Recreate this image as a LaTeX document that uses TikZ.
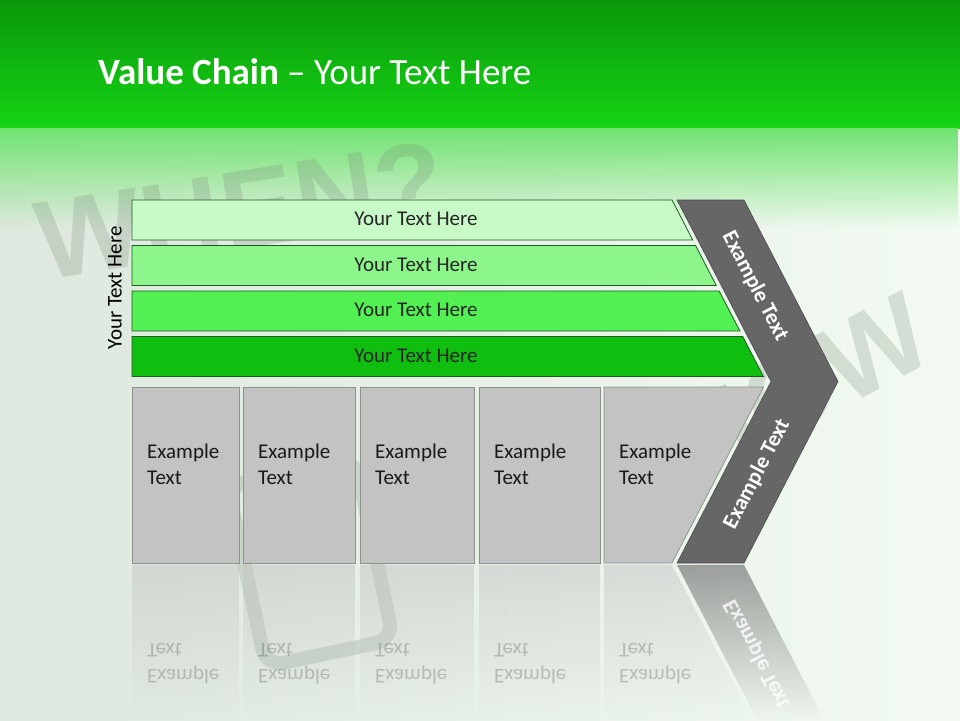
\documentclass[tikz,border=0pt]{standalone}
\usepackage{fontspec}
\setmainfont{Carlito}
\newfontfamily\wmfont{Liberation Sans}
\usetikzlibrary{fadings}
\definecolor{vctop}{RGB}{10,152,10}
\definecolor{vcband}{RGB}{22,212,22}
\definecolor{vcglow}{RGB}{112,228,112}
\definecolor{vcbgleft}{RGB}{222,232,222}
\definecolor{vcbgright}{RGB}{242,250,242}
\definecolor{vcbarA}{RGB}{200,250,200}
\definecolor{vcbarB}{RGB}{140,245,140}
\definecolor{vcbarC}{RGB}{82,240,82}
\definecolor{vcbarD}{RGB}{16,190,16}
\definecolor{vcedge}{RGB}{28,92,28}
\definecolor{vcbox}{RGB}{195,195,195}
\definecolor{vcboxedge}{RGB}{138,146,138}
\definecolor{vcchev}{RGB}{102,102,102}
\definecolor{vcmark}{RGB}{110,128,110}
\tikzfading[name=vcfade, top color=transparent!0, bottom color=transparent!100]

\begin{document}
\begin{tikzpicture}[x=1pt,y=-1pt,
    vcbar/.style={draw=vcedge,line width=0.8pt},
    cellbox/.style={fill=vcbox,draw=vcboxedge,line width=0.7pt},
    bartext/.style={font=\fontsize{21}{25}\selectfont,text=black!85},
    boxtext/.style={font=\fontsize{21}{26}\selectfont,align=left,anchor=north west,inner sep=0pt,text=black!90},
    chevtext/.style={font=\bfseries\fontsize{22}{26}\selectfont,text=white},
    wmtext/.style={font=\wmfont\bfseries\fontsize{112}{112}\selectfont,text=vcmark,text opacity=0.22}]
        \useasboundingbox (0,0) rectangle (960,720);
        \shade[left color=vcbgleft,right color=vcbgright] (0,0) rectangle (960,720);
        \shade[top color=vctop,bottom color=vcband] (0,0) rectangle (960,128);
        \fill[vcglow,path fading=vcfade] (0,128) rectangle (960,228);
        \node[wmtext,rotate=9] (when) at (240,210) {WHEN?};
        \node[wmtext,rotate=28] (how) at (800,388) {HOW};
        \draw[vcmark,opacity=0.22,line width=14pt,rounded corners=18pt,rotate around={12:(310,560)}] (245,470) rectangle (375,655);
        \node[anchor=base west,inner sep=0pt,text=white,font=\fontsize{37}{44}\selectfont] (title) at (98,84) {\textbf{Value Chain} – Your Text Here};
        \node[rotate=90,font=\fontsize{21}{25}\selectfont] (side) at (115,288) {Your Text Here};
        \foreach \t/\c [count=\i] in {200/vcbarA,245.5/vcbarB,291/vcbarC,336.5/vcbarD} {
          \draw[vcbar,fill=\c] (132,\t) -- ({672+(\t-200)*0.518},\t) -- ({672+(\t-160)*0.518},\t+40) -- (132,\t+40) -- cycle;
          \node[bartext] (bar\i) at (416,\t+19) {Your Text Here};
        }
        \draw[fill=vcchev,draw=black!70,line width=0.6pt] (677,200) -- (744,200) -- (838,381.5) -- (744,563) -- (677,563) -- (771,381.5) -- cycle;
        \node[chevtext,rotate=-62.6] (chevtop) at (755,286) {Example Text};
        \node[chevtext,rotate=62.6] (chevbot) at (757,474) {Example Text};
        \foreach \l/\r [count=\i] in {132/239,243/355,360/474,479/600} {
          \draw[cellbox] (\l,387) rectangle (\r,563);
          \node[boxtext] (cell\i) at (\l+15,444) {Example\\Text};
          \fill[vcbox,fill opacity=0.5,path fading=vcfade] (\l,565) rectangle (\r,720);
          \node[boxtext,yscale=-1,text opacity=0.22] (cellr\i) at (\l+15,684) {Example\\Text};
        }
        \draw[cellbox] (604,387) -- (763.5,387) -- (672,563) -- (604,563) -- cycle;
        \node[boxtext] (cell5) at (619,444) {Example\\Text};
        \fill[vcbox,fill opacity=0.5,path fading=vcfade] (604,565) -- (672,565) -- (752.3,720) -- (604,720) -- cycle;
        \node[boxtext,yscale=-1,text opacity=0.22] (cellr5) at (619,684) {Example\\Text};
        \fill[vcchev,fill opacity=0.6,path fading=vcfade] (677,565) -- (744,565) -- (824.3,720) -- (757.3,720) -- cycle;
        \node[chevtext,rotate=-62.6,yscale=-1,text opacity=0.8] (chevr) at (757,654) {Example Text};
\end{tikzpicture}
\end{document}
